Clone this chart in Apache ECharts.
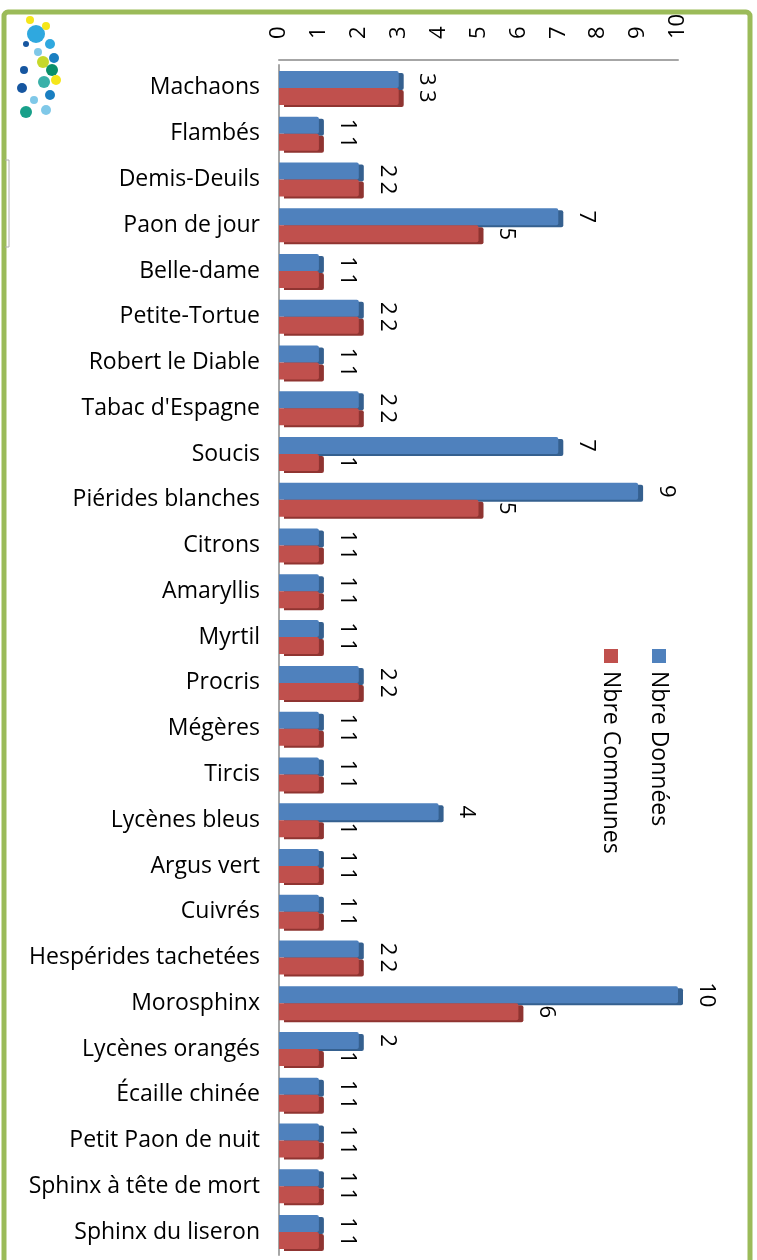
<!DOCTYPE html>
<html>
<head>
<meta charset="utf-8">
<script src="https://cdn.jsdelivr.net/npm/echarts@6/dist/echarts.min.js"></script>
<style>
html,body{margin:0;padding:0;background:#fff;}
#chart{width:757px;height:1260px;}
</style>
</head>
<body>
<div id="chart"></div>
<script>
const categories = ["Machaons","Flambés","Demis-Deuils","Paon de jour","Belle-dame","Petite-Tortue","Robert le Diable","Tabac d'Espagne","Soucis","Piérides blanches","Citrons","Amaryllis","Myrtil","Procris","Mégères","Tircis","Lycènes bleus","Argus vert","Cuivrés","Hespérides tachetées","Morosphinx","Lycènes orangés","Écaille chinée","Petit Paon de nuit","Sphinx à tête de mort","Sphinx du liseron"];
const seriesNames = ["Nbre Données","Nbre Communes"];
const nbreDonnees = [3,1,2,7,1,2,1,2,7,9,1,1,1,2,1,1,4,1,1,2,10,2,1,1,1,1];
const nbreCommunes = [3,1,2,5,1,2,1,2,1,5,1,1,1,2,1,1,1,1,1,2,6,1,1,1,1,1];
const axisTicks = [0,1,2,3,4,5,6,7,8,9,10];

const FONT = '"Open Sans", sans-serif';
const blue = '#4f81bd', red = '#c0504d';

const chart = echarts.init(document.getElementById('chart'), null, {renderer:'canvas'});

function mkSeries(name, data, color, shadow){
  return {
    name: name, type: 'bar', data: data,
    barWidth: 17, barGap: '0%',
    itemStyle: { color: color, shadowColor: shadow, shadowOffsetX: 5, shadowOffsetY: 2, shadowBlur: 0, borderRadius: [0,2,2,0] },
    label: {
      show: true, position: 'right', rotate: -90, distance: 28,
      align: 'center', verticalAlign: 'middle',
      fontFamily: FONT, fontSize: 22, color: '#000'
    },
    z: 2
  };
}

// Logo approximation (decorative)
const logoDots = [
  [30,20,4,'#f5e61a'],[36,34,9,'#2fa8df'],[50,44,5,'#2fa8df'],[43,62,6,'#c6d82a'],[52,70,6,'#0a8f6a'],
  [38,52,4,'#7fc8e8'],[54,58,5,'#1a7fc1'],[26,44,3,'#1656a0'],[44,82,6,'#3ab0a8'],[24,70,4,'#1656a0'],
  [50,95,5,'#1a7fc1'],[34,100,4,'#7fc8e8'],[22,88,5,'#1656a0'],[26,112,6,'#18a08a'],[46,110,5,'#7fc8e8'],
  [56,80,5,'#f5e61a'],[46,26,4,'#f5e61a']
];
const graphics = [
  { type:'rect', shape:{x:4, y:12, width:746, height:1320, r:4}, style:{fill:'none', stroke:'#9bbb59', lineWidth:5}, z:0 },
  { type:'polyline', shape:{points:[[5,160],[9,160],[9,247],[5,247]]}, style:{fill:'none', stroke:'#b0b0b0', lineWidth:1} }
];
logoDots.forEach(d => graphics.push({type:'circle', shape:{cx:d[0], cy:d[1], r:d[2]}, style:{fill:d[3]}}));
// Rotated legend
const legendColors = [blue, red];
const legendX = [659, 611];
seriesNames.forEach((n,i) => {
  graphics.push({ type:'rect', shape:{x:legendX[i]-7, y:649, width:14, height:14}, style:{fill:legendColors[i]} });
  graphics.push({ type:'text', x:legendX[i], y:671, rotation:-Math.PI/2,
    style:{ text:n, font:'23px ' + FONT, fill:'#000', textAlign:'left', textVerticalAlign:'middle' } });
});

chart.setOption({
  animation: false,
  backgroundColor: '#fff',
  grid: { left: 279, right: 79, top: 65, bottom: 5, containLabel: false },
  xAxis: {
    type: 'value', position: 'top', min: 0, max: 10, interval: 1, offset: 5,
    axisLine: { show: true, lineStyle: { color: '#a6a6a6', width: 2 } },
    axisTick: { show: false }, splitLine: { show: false },
    axisLabel: { rotate: -90, margin: 21, fontFamily: FONT, fontSize: 22, color: '#000',
      formatter: v => String(axisTicks[axisTicks.indexOf(v)]) }
  },
  yAxis: {
    type: 'category', data: categories, inverse: true,
    axisLine: { show: true, lineStyle: { color: '#a6a6a6', width: 2 } },
    axisTick: { show: false },
    axisLabel: { margin: 19, fontFamily: FONT, fontSize: 23, color: '#000' }
  },
  series: [
    mkSeries(seriesNames[0], nbreDonnees, blue, '#35608f'),
    mkSeries(seriesNames[1], nbreCommunes, red, '#8f3431')
  ],
  graphic: graphics
});
</script>
</body>
</html>
